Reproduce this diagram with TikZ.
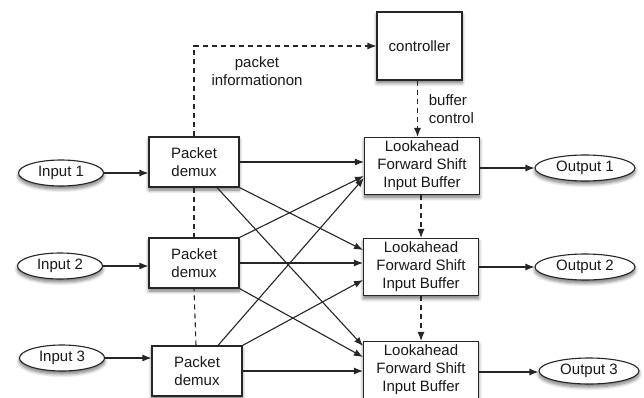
\documentclass[tikz,border=0pt]{standalone}
\usepackage{fontspec}
\setmainfont{Liberation Sans}
\usetikzlibrary{arrows.meta,shadows.blur,shapes.geometric}
\begin{document}
\begin{tikzpicture}[x=1pt,y=-1pt,
  line width=1.1pt,
  every node/.style={font=\fontsize{15}{18}\selectfont, align=center, text=black!90},
  shad/.style={blur shadow={shadow xshift=0pt, shadow yshift=-3pt, shadow blur steps=8, shadow opacity=55, shadow blur radius=3.5pt}},
  box/.style={draw=black!85, fill=white, rectangle, inner sep=0pt, shad},
  demux/.style={box, minimum width=90pt, minimum height=50pt},
  lfsib/.style={box, minimum width=115pt, minimum height=57pt},
  io/.style={draw=black!85, fill=white, ellipse, inner sep=0pt, minimum height=26pt, shad},
  conn/.style={draw=black!85, -{Latex[length=9pt,width=7pt]}},
  dconn/.style={draw=black!85, dash pattern=on 5pt off 4pt},
  lbl/.style={font=\fontsize{15}{18}\selectfont}
]
\useasboundingbox (0,0) rectangle (644,398);

% nodes
\node[io, minimum width=85pt] (in1) at (61,173) {Input 1};
\node[io, minimum width=85pt] (in2) at (60,266) {Input 2};
\node[io, minimum width=85pt] (in3) at (62,358) {Input 3};

\node[demux] (d1) at (194,162) {Packet\\demux};
\node[demux] (d2) at (194,263) {Packet\\demux};
\node[demux] (d3) at (197,371) {Packet\\demux};

\node[box, minimum width=85pt, minimum height=68pt] (ctrl) at (419.5,46) {controller};

\node[lfsib] (L1) at (422,166) {Lookahead\\Forward Shift\\Input Buffer};
\node[lfsib] (L2) at (421,267) {Lookahead\\Forward Shift\\Input Buffer};
\node[lfsib] (L3) at (421,370) {Lookahead\\Forward Shift\\Input Buffer};

\node[io, minimum width=100pt] (o1) at (585,168) {Output 1};
\node[io, minimum width=100pt] (o2) at (585,267) {Output 2};
\node[io, minimum width=100pt] (o3) at (589,371) {Output 3};

% labels
\node[lbl] (pinfo) at (257,71) {packet\\informationon};
\node[lbl, align=left, anchor=west] (bctl) at (425,109) {buffer\\control};

% inputs to demux
\draw[conn] (in1.east) -- (in1.east -| d1.west);
\draw[conn] (in2.east) -- (in2.east -| d2.west);
\draw[conn] (in3.east) -- (in3.east -| d3.west);

% buffers to outputs
\draw[conn] ([yshift=-2pt]L1.east) -- ([yshift=-2pt]L1.east -| o1.west);
\draw[conn] (L2.east) -- (L2.east -| o2.west);
\draw[conn] ([yshift=-2pt]L3.east) -- ([yshift=-2pt]L3.east -| o3.west);

% crossbar
\draw[conn] (d1.east) -- (d1.east -| L1.west);
\draw[conn] (d1.south east) -- ([yshift=17pt]L2.west);
\draw[conn] ([xshift=23pt]d1.south) -- ([yshift=-5pt]L3.north west);
\draw[conn] (d2.north east) -- ([yshift=-10pt]L1.west);
\draw[conn] (d2.east) -- (d2.east -| L2.west);
\draw[conn] (d2.south east) -- ([yshift=13pt]L3.west);
\draw[conn] ([xshift=21pt]d3.north) -- ([yshift=-12pt]L1.west);
\draw[conn] (d3.north east) -- ([yshift=-13pt]L2.west);
\draw[conn] (d3.east) -- (d3.east -| L3.west);

% dashed control lines
\draw[dconn, -{Latex[length=9pt,width=7pt]}] (d1.north) |- (ctrl.west);
\draw[dconn] (d1.south) -- (d2.north);
\draw[dconn] ([xshift=-1pt]d3.north) -- (d2.south);
\draw[dconn, -{Latex[length=9pt,width=7pt]}] ([xshift=-2pt]ctrl.south) -- ([xshift=-2pt]ctrl.south |- L1.north);
\draw[dconn, -{Latex[length=9pt,width=7pt]}] ([xshift=-1pt]L1.south) -- ([xshift=-1pt]L1.south |- L2.north);
\draw[dconn, -{Latex[length=9pt,width=7pt]}] (L2.south) -- (L3.north);
\end{tikzpicture}
\end{document}
